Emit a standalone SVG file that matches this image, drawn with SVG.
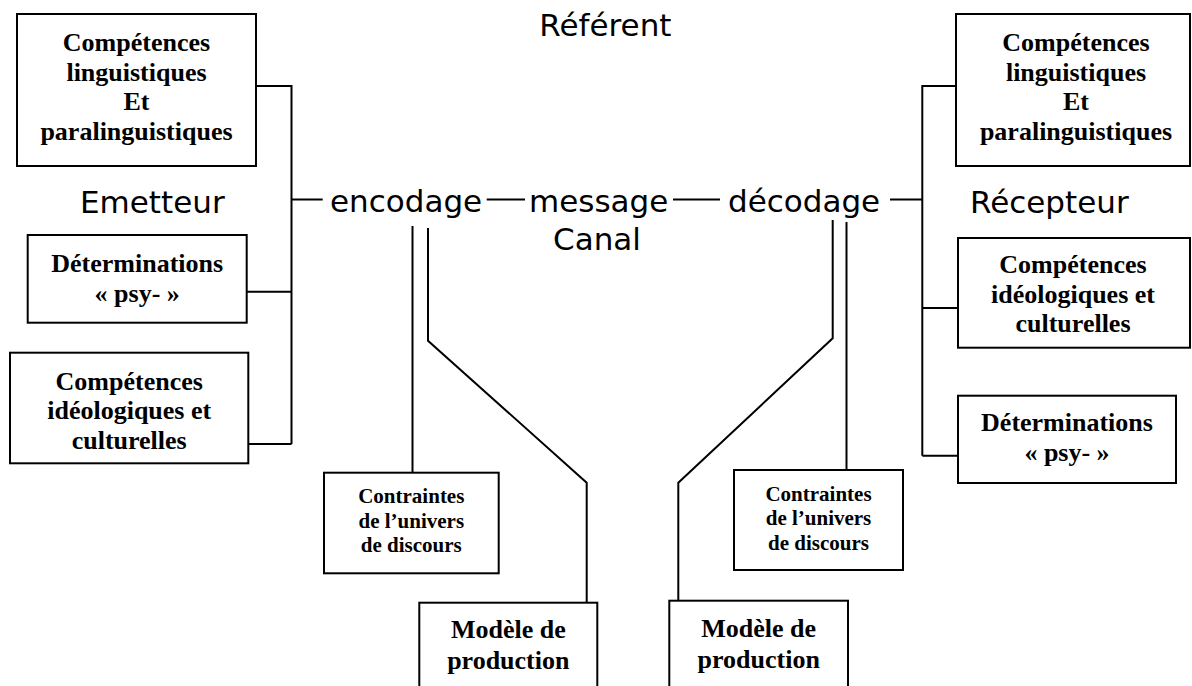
<svg xmlns="http://www.w3.org/2000/svg" width="1192" height="686" viewBox="0 0 1192 686">
<style>
.box{fill:#fff;stroke:#000;stroke-width:2}
.ln{fill:none;stroke:#000;stroke-width:2}
.bt{font-family:"Liberation Serif","Times New Roman",serif;font-weight:bold;font-size:26px;text-anchor:middle;fill:#000}
.st{font-family:"Liberation Serif","Times New Roman",serif;font-weight:bold;font-size:21px;text-anchor:middle;fill:#000}
.lb{font-family:"DejaVu Sans",Verdana,sans-serif;font-size:31px;fill:#000}
</style>
<rect width="1192" height="686" fill="#fff"/>
<g id="connectors">
<path class="ln" d="M256 86H291.5V444M291.5 199.5H322.7M247 291.7H291.5M248 444H291.5"/>
<path class="ln" d="M486.7 199.5H525M673 199.5H720M890 199.5H922.3"/>
<path class="ln" d="M956 86H922.3V455.7M922.3 308H958M922.3 455.7H958"/>
<path class="ln" d="M412.5 226V472.7"/>
<path class="ln" d="M428 228V340.7L586.7 482.7V602.7"/>
<path class="ln" d="M832.7 220V338.3L678.3 482.7V600.7"/>
<path class="ln" d="M846.5 222V470"/>
</g>
<g id="referent"><text class="lb" x="539.3" y="36">Référent</text></g>
<g id="emetteur"><text class="lb" x="80" y="213">Emetteur</text></g>
<g id="recepteur"><text class="lb" x="970" y="213">Récepteur</text></g>
<g id="encodage"><text class="lb" x="330" y="211.7">encodage</text></g>
<g id="message"><text class="lb" x="529" y="211.7">message</text></g>
<g id="decodage"><text class="lb" x="728" y="211.7">décodage</text></g>
<g id="canal"><text class="lb" x="553" y="250">Canal</text></g>
<g id="l-ling">
<rect class="box" x="17" y="14" width="239" height="152"/>
<text class="bt" x="136.5" y="51">Compétences</text>
<text class="bt" x="136.5" y="80.5">linguistiques</text>
<text class="bt" x="136.5" y="110">Et</text>
<text class="bt" x="136.5" y="139.5">paralinguistiques</text>
</g>
<g id="l-psy">
<rect class="box" x="27.7" y="235" width="219" height="87.7"/>
<text class="bt" x="137.2" y="272">Déterminations</text>
<text class="bt" x="137.2" y="302">« psy- »</text>
</g>
<g id="l-ideo">
<rect class="box" x="10" y="352.7" width="238.3" height="110.6"/>
<text class="bt" x="129.2" y="389.5">Compétences</text>
<text class="bt" x="129.2" y="419">idéologiques et</text>
<text class="bt" x="129.2" y="448.5">culturelles</text>
</g>
<g id="r-ling">
<rect class="box" x="956" y="14" width="234" height="152"/>
<text class="bt" x="1076" y="51">Compétences</text>
<text class="bt" x="1076" y="80.5">linguistiques</text>
<text class="bt" x="1076" y="110">Et</text>
<text class="bt" x="1076" y="139.5">paralinguistiques</text>
</g>
<g id="r-ideo">
<rect class="box" x="958" y="238" width="232" height="109.7"/>
<text class="bt" x="1073" y="273">Compétences</text>
<text class="bt" x="1073" y="302.5">idéologiques et</text>
<text class="bt" x="1073" y="332">culturelles</text>
</g>
<g id="r-psy">
<rect class="box" x="958" y="395.7" width="218" height="87.3"/>
<text class="bt" x="1067" y="431">Déterminations</text>
<text class="bt" x="1067" y="461">« psy- »</text>
</g>
<g id="l-contraintes">
<rect class="box" x="324" y="472.7" width="174.7" height="100.6"/>
<text class="st" x="411.3" y="503.3">Contraintes</text>
<text class="st" x="411.3" y="527.7">de l’univers</text>
<text class="st" x="411.3" y="552.3">de discours</text>
</g>
<g id="r-contraintes">
<rect class="box" x="734" y="470" width="169" height="100"/>
<text class="st" x="818.5" y="500.5">Contraintes</text>
<text class="st" x="818.5" y="525">de l’univers</text>
<text class="st" x="818.5" y="549.5">de discours</text>
</g>
<g id="l-modele">
<rect class="box" x="419.3" y="602.7" width="178" height="100"/>
<text class="bt" x="508.3" y="638.3">Modèle de</text>
<text class="bt" x="508.3" y="669.3">production</text>
</g>
<g id="r-modele">
<rect class="box" x="669.3" y="600.7" width="178.7" height="100"/>
<text class="bt" x="758.7" y="636.5">Modèle de</text>
<text class="bt" x="758.7" y="667.5">production</text>
</g>
</svg>
